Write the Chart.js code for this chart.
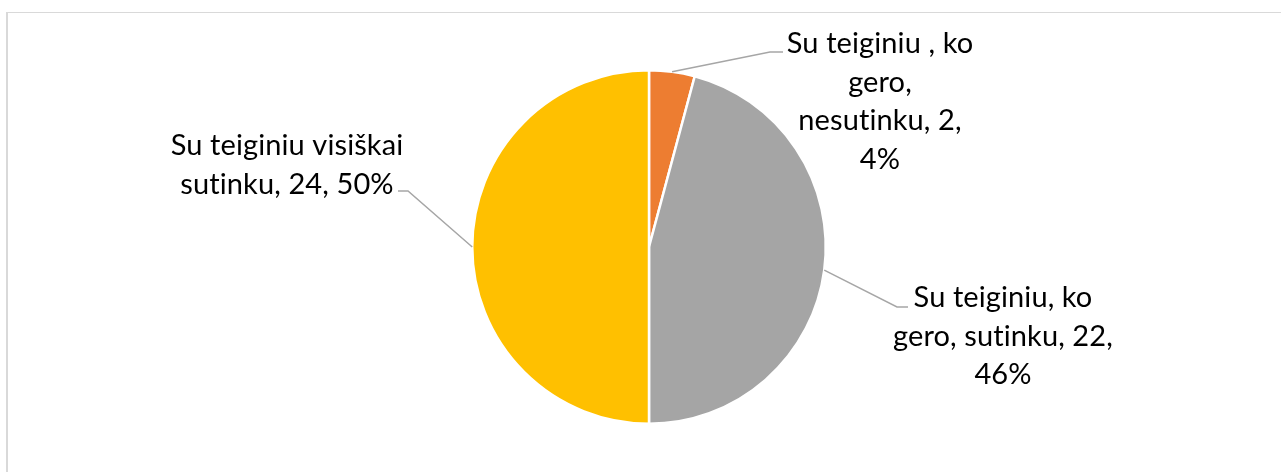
<!DOCTYPE html>
<html lang="lt">
<head>
<meta charset="UTF-8">
<title>Su teiginiu</title>
<script src="https://cdn.jsdelivr.net/npm/chart.js"></script>
<style>
  * { margin: 0; padding: 0; box-sizing: border-box; }
  html, body { width: 1281px; height: 472px; overflow: hidden; background: #fff; }
  .frame { position: absolute; left: 6px; top: 12px; width: 1400px; height: 600px;
           border-top: 1px solid #d9d9d9; border-left: 2px solid #d9d9d9; }
  canvas { position: absolute; left: 0; top: 0; }
</style>
</head>
<body>
<div class="frame"></div>
<canvas id="pie" width="1281" height="472"></canvas>
<script>
// data
const categories = ['Su teiginiu , ko gero, nesutinku', 'Su teiginiu, ko gero, sutinku', 'Su teiginiu visiškai sutinku'];
const counts = [2, 22, 24];
const percents = ['4%', '46%', '50%'];
const colors = ['#ED7D31', '#A5A5A5', '#FFC000'];

// label text broken into lines the way the original wraps them
const labelLines = [
  ['Su teiginiu , ko', 'gero,', 'nesutinku, 2,', '4%'],
  ['Su teiginiu, ko', 'gero, sutinku, 22,', '46%'],
  ['Su teiginiu visiškai', 'sutinku, 24, 50%']
];

// label placement, relative to pie centre: text centre x, first baseline y,
// leader elbow and leader end
const labelLayout = [
  { tx: 231, ty: -194, elbow: [121, -195], end: [134, -195] },
  { tx: 354, ty: 60, elbow: [248, 60], end: [259, 60] },
  { tx: -362, ty: -92, elbow: [-241, -56], end: [-251, -56] }
];
const LINE_H = 38.5;

const leaderLabels = {
  id: 'leaderLabels',
  afterDatasetsDraw(chart) {
    const ctx = chart.ctx;
    const arcs = chart.getDatasetMeta(0).data;
    ctx.save();
    arcs.forEach((arc, i) => {
      const { x, y, startAngle, endAngle, outerRadius } = arc.getProps(['x', 'y', 'startAngle', 'endAngle', 'outerRadius'], true);
      const mid = (startAngle + endAngle) / 2;
      const px = x + Math.cos(mid) * outerRadius;
      const py = y + Math.sin(mid) * outerRadius;
      const L = labelLayout[i];
      ctx.strokeStyle = '#A6A6A6';
      ctx.lineWidth = 1.5;
      ctx.beginPath();
      ctx.moveTo(px, py);
      ctx.lineTo(x + L.elbow[0], y + L.elbow[1]);
      ctx.lineTo(x + L.end[0], y + L.end[1]);
      ctx.stroke();

      ctx.fillStyle = '#000';
      ctx.font = '29px Lato, "Open Sans", sans-serif';
      ctx.letterSpacing = '0.1px'; // keeps Lato from joining "ti"
      ctx.textAlign = 'center';
      ctx.textBaseline = 'alphabetic';
      labelLines[i].forEach((line, k) => {
        ctx.fillText(line, x + L.tx, y + L.ty + k * LINE_H);
      });
    });
    ctx.restore();
  }
};

new Chart(document.getElementById('pie'), {
  type: 'pie',
  data: {
    labels: categories,
    datasets: [{
      data: counts,
      backgroundColor: colors,
      borderColor: '#ffffff',
      borderWidth: 2.5
    }]
  },
  options: {
    responsive: false,
    animation: false,
    devicePixelRatio: 1,
    layout: { padding: { left: 471, right: 454, top: 69, bottom: 47 } },
    plugins: {
      legend: { display: false },
      tooltip: { enabled: false }
    }
  },
  plugins: [leaderLabels]
});
</script>
</body>
</html>
